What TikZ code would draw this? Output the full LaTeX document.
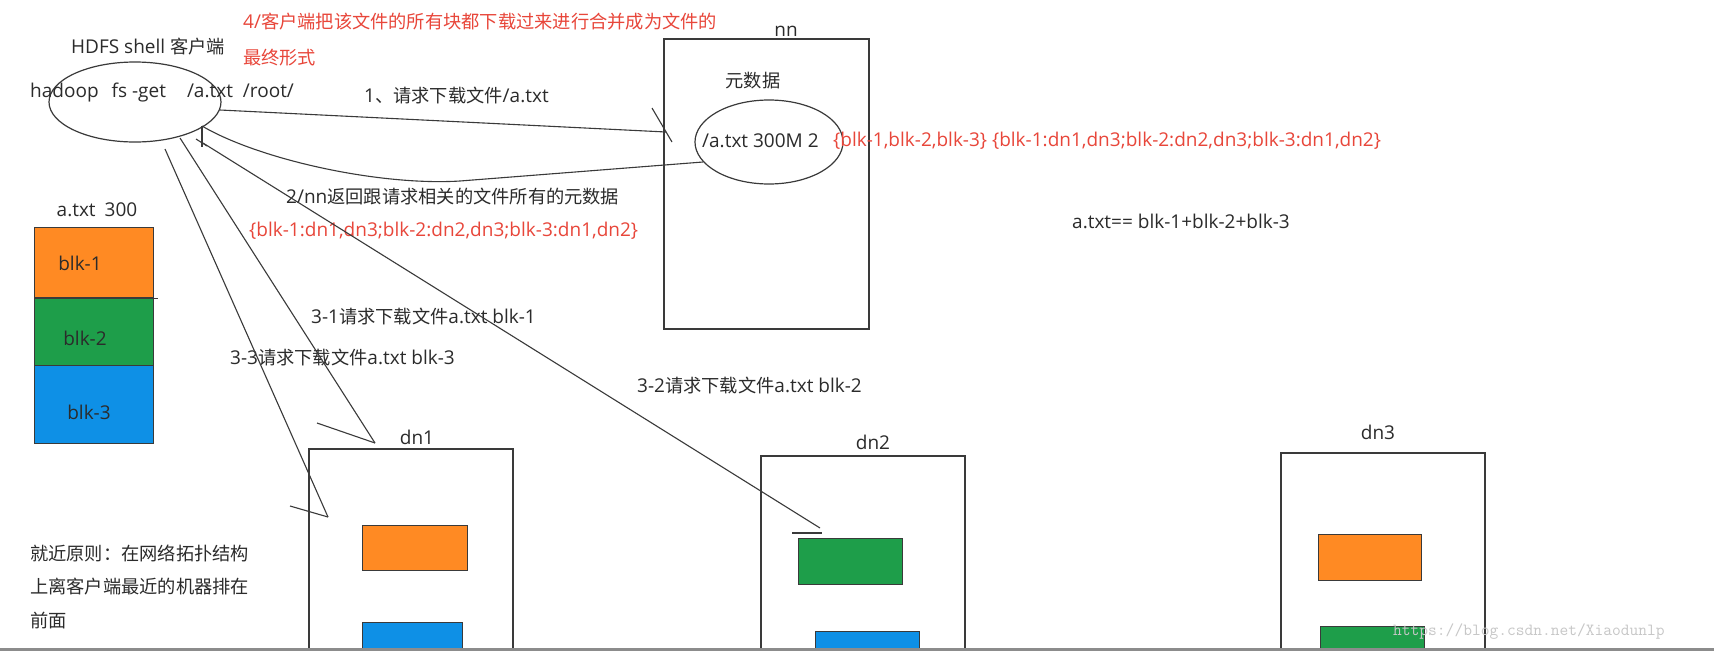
\documentclass[tikz,border=0pt]{standalone}
\usepackage{fontspec}
\setmainfont{Open Sans}
\newfontfamily\cjk[Scale=0.96]{Noto Sans CJK SC}
\newcommand\zh[1]{{\cjk #1}}
\usetikzlibrary{shapes.geometric}
\definecolor{txtc}{HTML}{2B2B2B}
\definecolor{redc}{HTML}{E8463A}
\definecolor{linec}{HTML}{3A3A3A}
\definecolor{blkor}{HTML}{FF8A23}
\definecolor{blkgr}{HTML}{1E9E4A}
\definecolor{blkbl}{HTML}{0E90E6}
\tikzset{
  txt/.style={inner sep=0pt, anchor=west, text=txtc, font=\fontsize{19}{22}\selectfont},
  ctxt/.style={txt, anchor=center},
  redtxt/.style={txt, text=redc},
  frame/.style={draw=linec, line width=1.6pt, rectangle, inner sep=0pt},
  oval/.style={draw=linec, line width=1.2pt, ellipse, inner sep=0pt},
  conn/.style={draw=linec, line width=1.1pt},
  blkbox/.style={draw=linec, line width=1pt, rectangle, inner sep=0pt, anchor=north west},
}
\begin{document}
\begin{tikzpicture}[x=1pt,y=-1pt]
\useasboundingbox (0,0) rectangle (1714,651);
\fill[white] (0,0) rectangle (1714,651);
\begin{scope}
\clip (0,0) rectangle (1714,648);

% ---------- client ----------
\node[oval, minimum width=172pt, minimum height=80pt] (client) at (135,102) {};
\node[txt] (hdfs) at (71,47) {HDFS shell \zh{客户端}};
\node[txt] (cmd) at (30,93) {hadoop\hspace{13pt}fs -get\hspace{21pt}/a.txt\hspace{10pt}/root/};
\node[redtxt] (step4a) at (243,22) {4/\zh{客户端把该文件的所有块都下载过来进行合并成为文件的}};
\node[redtxt] (step4b) at (243,58) {\zh{最终形式}};

% ---------- namenode ----------
\node[frame, minimum width=205pt, minimum height=290pt, anchor=north west] (nn) at (663,38) {};
\node[ctxt] (nnlab) at (786,31) {nn};
\node[ctxt] (metalab) at (753,81) {\zh{元数据}};
\node[oval, minimum width=148pt, minimum height=84pt] (meta) at (769,142) {};
\node[txt] (metatxt) at (702,141) {/a.txt 300M 2};
\node[redtxt] (metared) at (833,141) {\{blk-1,blk-2,blk-3\} \{blk-1:dn1,dn3;blk-2:dn2,dn3;blk-3:dn1,dn2\}};
\node[txt] (sum) at (1072,221) {a.txt== blk-1+blk-2+blk-3};

% ---------- file stack ----------
\node[ctxt] (filelab) at (97,210) {a.txt\hspace{9pt}300};
\node[blkbox, fill=blkor, minimum width=119pt, minimum height=70pt] (b1) at (34,227) {};
\node[blkbox, fill=blkgr, minimum width=119pt, minimum height=68pt] (b2) at (34,297) {};
\node[blkbox, fill=blkbl, minimum width=119pt, minimum height=78pt] (b3) at (34,365) {};
\draw[linec, line width=1pt] (b1.south west) -- ([xshift=4pt]b1.south east);
\node[ctxt] (b1t) at (80,263) {blk-1};
\node[ctxt] (b2t) at (85,338) {blk-2};
\node[ctxt] (b3t) at (89,412) {blk-3};

% ---------- datanodes ----------
\node[frame, minimum width=204pt, minimum height=260pt, anchor=north west] (dn1) at (308,448) {};
\node[frame, minimum width=204pt, minimum height=260pt, anchor=north west] (dn2) at (760,455) {};
\node[frame, minimum width=204pt, minimum height=260pt, anchor=north west] (dn3) at (1280,452) {};
\node[ctxt] (dn1t) at (417,437) {dn1};
\node[ctxt] (dn2t) at (873,442) {dn2};
\node[ctxt] (dn3t) at (1378,432) {dn3};

\node[blkbox, fill=blkor, minimum width=105pt, minimum height=45pt] (d1a) at (362,525) {};
\node[blkbox, fill=blkbl, minimum width=100pt, minimum height=45pt] (d1b) at (362,622) {};
\node[blkbox, fill=blkgr, minimum width=104pt, minimum height=46pt] (d2a) at (798,538) {};
\node[blkbox, fill=blkbl, minimum width=104pt, minimum height=45pt] (d2b) at (815,631) {};
\node[blkbox, fill=blkor, minimum width=103pt, minimum height=46pt] (d3a) at (1318,534) {};
\node[blkbox, fill=blkgr, minimum width=104pt, minimum height=45pt] (d3b) at (1320,626) {};

% ---------- labels ----------
\node[txt] (req1) at (364,96) {1\zh{、请求下载文件}/a.txt};
\node[txt] (ret2) at (286,197) {2/nn\zh{返回跟请求相关的文件所有的元数据}};
\node[redtxt] (ret2r) at (249,231) {\{blk-1:dn1,dn3;blk-2:dn2,dn3;blk-3:dn1,dn2\}};
\node[txt] (r31) at (311,317) {3-1\zh{请求下载文件}a.txt blk-1};
\node[txt] (r33) at (230,358) {3-3\zh{请求下载文件}a.txt blk-3};
\node[txt] (r32) at (637,386) {3-2\zh{请求下载文件}a.txt blk-2};
\node[txt] (rule1) at (30,553) {\zh{就近原则：在网络拓扑结构}};
\node[txt] (rule2) at (30,587) {\zh{上离客户端最近的机器排在}};
\node[txt] (rule3) at (30,621) {\zh{前面}};

% ---------- connector end points ----------
\coordinate (c1) at (220,110);
\coordinate (n1) at (666,132);
\coordinate (m2) at (703,162);
\coordinate (c2) at (202,126);
\coordinate (c33) at (165,149);
\coordinate (e33) at (328,517);
\coordinate (c31) at (180,138);
\coordinate (e31) at (375,443);
\coordinate (c32) at (203,143);
\coordinate (e32) at (820,528);

% 1: request to nn
\draw[conn] (c1) -- (n1);
\draw[conn] ([shift={(-14,-24)}]n1) -- ([shift={(6,10)}]n1);
% 2: metadata back to client
\draw[conn] (m2) -- (460,181) .. controls (380,186) and (260,160) .. (c2);
\draw[conn] (c2) -- ([shift={(0,21)}]c2);
\draw[conn] ([shift={(-6,13)}]c2) -- ([shift={(5,20)}]c2);
% 3-3
\draw[conn] (c33) -- (e33);
\draw[conn] ([shift={(-38,-11)}]e33) -- (e33);
% 3-1
\draw[conn] (c31) -- (e31);
\draw[conn] ([shift={(-58,-20)}]e31) -- (e31);
% 3-2
\draw[conn] (c32) -- (e32);
\draw[conn] ([shift={(-28,5)}]e32) -- ([shift={(2,5)}]e32);

% watermark
\node[inner sep=0pt, anchor=west, text=black!22, font=\ttfamily\fontsize{17}{20}\selectfont] (wm) at (1393,632) {https://blog.csdn.net/Xiaodunlp};
\end{scope}
\draw[black!45, line width=3pt] (0,649.5) -- (1714,649.5);
\end{tikzpicture}
\end{document}
